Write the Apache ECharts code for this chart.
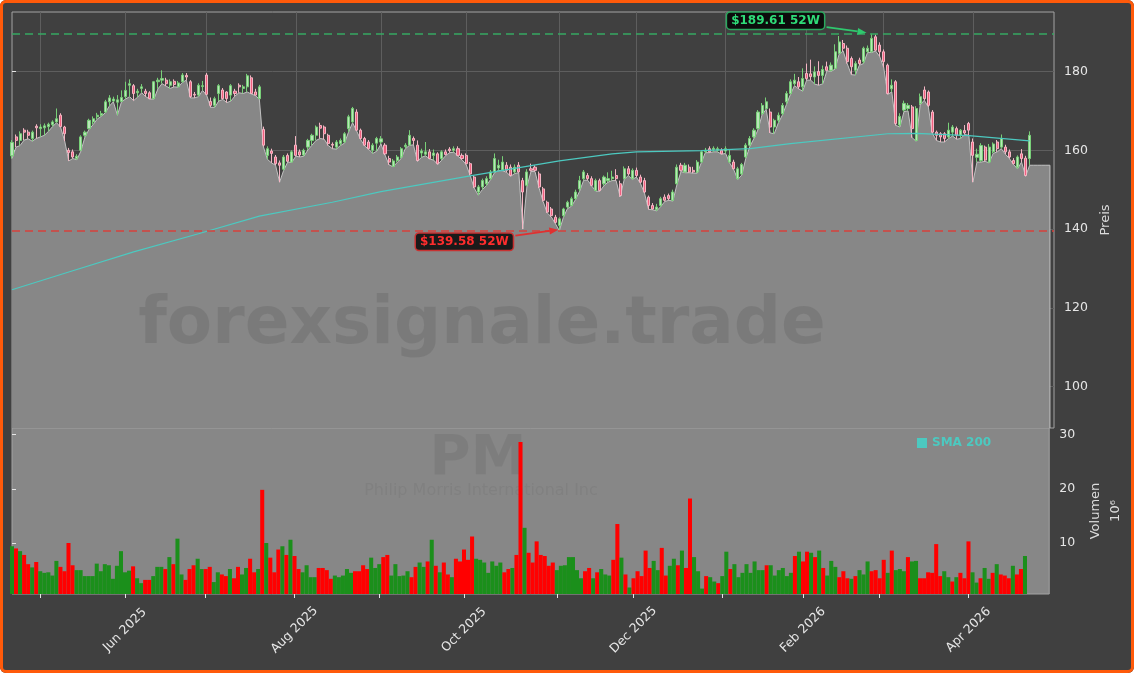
<!DOCTYPE html>
<html>
<head>
<meta charset="utf-8">
<title>PM</title>
<script src="https://cdn.jsdelivr.net/npm/echarts@6/dist/echarts.min.js"></script>
<style>
html, body { margin: 0; padding: 0; background: #ffffff; }
#wrap { position: relative; width: 1134px; height: 673px; }
#chart { position: absolute; left: 0; top: 0; width: 1134px; height: 673px; background: #404040; border-radius: 6px; }
#frame { position: absolute; left: 0; top: 0; width: 1134px; height: 673px; box-sizing: border-box; border: 3px solid #ff5a0a; border-radius: 6px; pointer-events: none; }
</style>
</head>
<body>
<div id="wrap"><div id="chart"></div><div id="frame"></div></div>
<script>
// trading days (x position = index)
var dates = [
 '2025-04-22','2025-04-23','2025-04-24','2025-04-25','2025-04-28','2025-04-29','2025-04-30',
 '2025-05-01','2025-05-02','2025-05-05','2025-05-06','2025-05-07','2025-05-08','2025-05-09','2025-05-12','2025-05-13','2025-05-14','2025-05-15','2025-05-16','2025-05-19','2025-05-20','2025-05-21','2025-05-22','2025-05-23','2025-05-27','2025-05-28','2025-05-29','2025-05-30',
 '2025-06-02','2025-06-03','2025-06-04','2025-06-05','2025-06-06','2025-06-09','2025-06-10','2025-06-11','2025-06-12','2025-06-13','2025-06-16','2025-06-17','2025-06-18','2025-06-20','2025-06-23','2025-06-24','2025-06-25','2025-06-26','2025-06-27','2025-06-30',
 '2025-07-01','2025-07-02','2025-07-03','2025-07-07','2025-07-08','2025-07-09','2025-07-10','2025-07-11','2025-07-14','2025-07-15','2025-07-16','2025-07-17','2025-07-18','2025-07-21','2025-07-22','2025-07-23','2025-07-24','2025-07-25','2025-07-28','2025-07-29','2025-07-30','2025-07-31',
 '2025-08-01','2025-08-04','2025-08-05','2025-08-06','2025-08-07','2025-08-08','2025-08-11','2025-08-12','2025-08-13','2025-08-14','2025-08-15','2025-08-18','2025-08-19','2025-08-20','2025-08-21','2025-08-22','2025-08-25','2025-08-26','2025-08-27','2025-08-28','2025-08-29',
 '2025-09-02','2025-09-03','2025-09-04','2025-09-05','2025-09-08','2025-09-09','2025-09-10','2025-09-11','2025-09-12','2025-09-15','2025-09-16','2025-09-17','2025-09-18','2025-09-19','2025-09-22','2025-09-23','2025-09-24','2025-09-25','2025-09-26','2025-09-29','2025-09-30',
 '2025-10-01','2025-10-02','2025-10-03','2025-10-06','2025-10-07','2025-10-08','2025-10-09','2025-10-10','2025-10-13','2025-10-14','2025-10-15','2025-10-16','2025-10-17','2025-10-20','2025-10-21','2025-10-22','2025-10-23','2025-10-24','2025-10-27','2025-10-28','2025-10-29','2025-10-30','2025-10-31',
 '2025-11-03','2025-11-04','2025-11-05','2025-11-06','2025-11-07','2025-11-10','2025-11-11','2025-11-12','2025-11-13','2025-11-14','2025-11-17','2025-11-18','2025-11-19','2025-11-20','2025-11-21','2025-11-24','2025-11-25','2025-11-26','2025-11-28',
 '2025-12-01','2025-12-02','2025-12-03','2025-12-04','2025-12-05','2025-12-08','2025-12-09','2025-12-10','2025-12-11','2025-12-12','2025-12-15','2025-12-16','2025-12-17','2025-12-18','2025-12-19','2025-12-22','2025-12-23','2025-12-24','2025-12-26','2025-12-29','2025-12-30','2025-12-31',
 '2026-01-02','2026-01-05','2026-01-06','2026-01-07','2026-01-08','2026-01-09','2026-01-12','2026-01-13','2026-01-14','2026-01-15','2026-01-16','2026-01-20','2026-01-21','2026-01-22','2026-01-23','2026-01-26','2026-01-27','2026-01-28','2026-01-29','2026-01-30',
 '2026-02-02','2026-02-03','2026-02-04','2026-02-05','2026-02-06','2026-02-09','2026-02-10','2026-02-11','2026-02-12','2026-02-13','2026-02-17','2026-02-18','2026-02-19','2026-02-20','2026-02-23','2026-02-24','2026-02-25','2026-02-26','2026-02-27',
 '2026-03-02','2026-03-03','2026-03-04','2026-03-05','2026-03-06','2026-03-09','2026-03-10','2026-03-11','2026-03-12','2026-03-13','2026-03-16','2026-03-17','2026-03-18','2026-03-19','2026-03-20','2026-03-23','2026-03-24','2026-03-25','2026-03-26','2026-03-27','2026-03-30','2026-03-31',
 '2026-04-01','2026-04-02','2026-04-06','2026-04-07','2026-04-08','2026-04-09','2026-04-10','2026-04-13','2026-04-14','2026-04-15','2026-04-16','2026-04-17','2026-04-20','2026-04-21','2026-04-22'
];

var open = [
 158.6,163.4,162.5,165.1,164.6,163.0,166.1,
 165.5,165.7,166.0,166.5,167.2,168.9,165.9,160.0,159.6,157.9,160.0,163.8,165.5,167.2,168.5,168.9,169.7,172.3,172.5,172.2,172.4,
 173.6,176.5,176.4,174.6,175.7,175.0,174.6,173.1,177.4,177.8,177.8,176.5,177.5,176.1,177.4,179.0,177.4,174.2,174.0,176.2,
 179.1,172.4,171.4,174.4,175.3,174.8,174.0,175.0,176.5,175.7,176.1,178.4,174.8,173.1,165.3,158.7,159.8,158.3,156.8,155.2,158.7,157.0,
 161.3,159.6,158.8,160.8,162.5,163.8,166.3,165.9,163.8,161.5,160.8,161.7,162.1,165.5,167.2,169.7,165.1,163.0,162.1,160.0,161.8,
 162.1,161.3,157.9,155.9,157.4,158.3,160.9,161.3,163.0,161.3,159.3,159.0,159.6,158.7,159.1,157.9,159.6,160.3,160.0,160.4,158.7,
 158.7,156.6,153.2,149.4,150.7,151.5,152.8,154.5,155.5,155.0,156.2,155.7,154.5,156.2,152.3,151.1,155.3,155.7,154.0,150.2,146.8,145.1,143.0,
 140.9,143.4,145.6,146.0,147.7,150.2,152.8,153.6,152.8,149.8,152.3,151.5,152.3,152.8,153.6,151.5,152.8,155.3,152.8,
 154.9,153.2,152.3,148.1,146.0,144.9,146.0,148.1,148.5,147.3,151.5,156.2,154.5,155.7,154.9,154.5,157.0,159.6,160.4,160.2,160.0,160.0,
 159.8,157.0,157.0,152.8,154.0,158.3,161.3,163.4,165.5,169.3,170.6,169.7,165.9,167.6,169.3,172.3,174.4,176.9,177.4,176.1,
 179.5,179.4,178.6,180.0,179.0,181.2,180.3,180.8,184.6,187.1,185.9,183.3,180.3,182.9,182.5,185.0,185.0,188.8,186.7,
 185.0,181.6,175.6,177.4,166.4,170.2,170.6,171.0,162.5,171.9,175.3,174.8,169.7,164.6,164.2,164.2,163.4,164.6,165.5,163.8,165.0,166.8,
 162.1,158.2,157.4,160.8,157.0,159.6,162.1,160.8,160.8,159.6,157.4,155.7,159.1,158.0,157.9
];
var close = [
 162.0,162.5,164.2,164.6,163.8,164.6,165.7,
 165.9,166.2,166.6,167.2,168.0,166.0,164.2,159.4,158.3,158.5,163.4,164.6,167.6,168.0,168.9,169.3,172.3,173.3,173.0,172.8,173.4,
 175.2,176.9,174.4,175.0,176.1,174.4,173.1,177.4,177.8,178.2,176.9,177.4,176.7,177.1,179.1,178.6,173.6,174.0,176.5,176.4,
 174.2,171.4,173.1,176.4,173.1,173.1,176.4,174.4,176.1,176.1,178.9,174.4,174.0,176.1,161.3,160.4,159.2,156.6,156.2,158.3,157.2,159.6,
 158.7,158.8,160.0,162.5,163.8,165.9,165.6,164.2,161.7,161.3,162.1,162.5,164.2,168.5,170.6,165.1,163.0,161.3,160.4,161.3,163.0,
 162.9,159.1,157.0,157.3,158.3,160.4,161.3,163.8,162.5,157.4,159.8,159.6,157.9,159.3,156.6,159.6,158.9,159.9,160.4,158.7,157.9,
 156.6,154.0,150.7,150.7,152.3,152.8,154.5,157.9,156.2,157.0,154.9,153.6,155.7,154.5,149.4,154.5,154.9,154.9,150.7,147.3,144.3,143.4,141.7,
 142.6,145.1,146.8,147.7,149.4,152.3,154.5,152.8,151.1,152.3,149.8,153.2,152.8,153.2,152.8,148.5,155.3,154.0,154.9,
 153.6,151.9,149.4,146.0,145.1,145.6,147.7,147.3,147.7,149.4,155.7,154.9,156.2,154.5,154.5,157.0,159.6,160.0,159.6,160.5,160.4,159.1,
 160.4,158.7,155.3,155.3,156.4,161.3,163.0,165.1,169.7,171.4,172.3,165.9,167.6,168.9,171.4,174.4,177.4,177.8,176.1,178.2,
 178.2,178.7,179.9,179.0,180.5,180.3,181.6,185.0,187.5,185.9,182.5,181.2,182.0,182.0,185.9,185.9,188.4,185.4,185.0,
 182.5,174.4,176.5,166.8,168.6,171.9,171.4,165.5,170.6,173.6,173.1,171.4,164.6,163.8,163.4,163.0,165.1,165.9,163.8,165.1,164.4,165.1,
 158.7,159.0,161.2,157.5,160.8,161.6,160.4,163.0,159.6,158.3,156.6,158.3,157.9,153.6,163.8
];
var low = [
 157.9,160.8,161.2,162.6,162.9,162.3,163.0,
 163.4,163.8,164.8,166.0,167.0,165.8,162.3,157.3,157.9,157.6,159.8,163.4,165.3,166.5,167.9,168.6,169.5,171.2,172.3,168.9,172.3,
 173.0,173.6,172.6,173.5,174.6,173.6,173.0,173.0,175.6,176.9,176.3,175.7,176.1,176.0,177.2,177.8,173.3,173.3,173.6,175.2,
 174.0,170.9,170.9,172.5,172.9,172.1,172.5,173.8,174.6,174.4,174.8,174.3,173.9,173.0,160.9,157.7,156.8,156.2,151.9,154.9,157.0,156.9,
 158.5,158.3,158.5,160.1,161.3,162.5,163.0,162.8,161.2,160.4,160.3,161.2,161.8,164.6,167.0,164.9,162.7,161.1,160.2,159.2,159.8,
 161.6,158.8,156.3,155.8,156.9,157.9,160.4,161.2,161.4,157.2,158.2,158.6,157.8,157.5,156.4,157.5,158.7,159.4,159.5,158.5,157.6,
 156.4,153.6,150.4,148.6,150.0,151.0,152.5,154.3,154.9,154.8,154.4,153.4,154.1,154.3,140.0,150.8,154.6,154.6,150.4,147.0,144.1,143.1,141.4,
 139.58,143.0,145.2,145.8,147.5,149.6,152.4,152.4,150.9,149.6,149.6,151.0,151.9,152.3,152.3,148.2,152.6,153.6,152.6,
 153.2,151.6,149.1,145.0,144.9,144.6,145.7,147.0,147.3,147.1,151.3,154.6,154.3,154.3,154.2,154.2,156.8,159.4,159.4,159.6,159.6,159.0,
 159.2,156.8,155.1,152.6,153.7,158.0,161.0,163.0,165.2,169.0,170.4,164.4,164.2,166.9,168.9,171.6,174.2,176.4,175.6,175.0,
 177.8,177.8,176.8,176.5,176.9,180.2,180.0,180.6,184.4,185.2,182.0,179.2,179.1,181.6,182.0,184.8,184.8,185.2,183.8,
 181.0,174.2,174.8,166.3,165.9,169.8,170.0,163.2,162.3,171.5,172.7,171.0,164.3,162.5,162.1,162.1,163.0,163.6,162.8,163.0,164.0,163.8,
 151.9,157.0,157.0,157.2,156.8,159.2,159.6,160.4,159.0,157.9,156.4,155.3,157.0,153.4,156.2
];
var high = [
 162.6,164.0,164.8,165.6,165.2,165.0,166.6,
 166.6,166.8,167.0,167.6,170.6,169.4,166.2,160.6,160.2,159.0,163.8,165.0,168.0,168.6,169.5,170.0,172.8,174.0,173.6,174.0,175.2,
 177.4,178.0,176.8,175.6,176.8,175.6,175.0,177.6,178.4,180.3,178.4,178.0,178.0,177.6,179.6,179.6,177.8,174.8,177.0,177.6,
 179.6,173.4,173.6,176.8,175.8,175.0,176.8,175.6,177.0,176.6,179.4,179.0,175.6,176.6,166.0,161.0,160.4,158.8,157.4,158.8,159.2,160.0,
 163.6,160.2,160.4,162.9,164.2,166.3,167.0,166.3,164.2,162.0,162.6,163.0,164.6,169.0,171.0,170.4,165.5,163.4,162.6,161.8,163.4,
 163.6,161.8,158.6,157.8,158.8,160.8,161.8,165.1,163.5,162.5,160.4,162.1,160.3,160.2,159.5,160.0,160.2,160.8,161.0,161.0,159.2,
 159.2,157.0,153.6,151.2,152.8,153.4,155.0,159.2,157.6,158.5,157.0,156.4,156.4,157.0,153.0,155.2,156.6,156.2,154.6,150.7,147.2,145.6,143.6,
 143.0,145.4,147.2,148.2,150.0,153.5,155.0,154.2,153.4,152.8,152.8,153.6,154.4,154.8,155.2,152.3,155.9,156.0,155.4,
 155.6,153.8,153.0,148.5,146.6,146.4,148.2,148.8,149.0,150.0,156.4,156.8,156.8,156.4,155.8,157.5,160.0,160.6,161.0,161.0,160.9,160.5,
 161.0,160.2,157.6,155.8,156.8,161.8,163.6,165.6,170.2,172.0,173.4,170.6,168.0,169.6,172.0,175.0,178.0,179.4,178.6,180.8,
 182.0,183.0,181.3,182.6,181.5,182.5,182.3,186.9,189.0,188.0,186.6,183.8,182.6,183.5,186.3,186.6,189.61,189.4,187.4,
 185.6,182.0,178.0,177.8,169.4,172.6,172.0,171.5,171.2,174.4,176.2,175.2,170.2,165.0,164.6,164.6,167.0,166.4,166.0,165.4,166.4,167.2,
 163.0,160.4,161.8,161.2,161.6,162.0,162.6,164.0,161.4,160.2,158.0,158.7,160.3,158.6,164.8
];
// volume in millions
var volume = [
 9.4,9.0,8.5,7.8,6.1,5.5,6.5,4.8,4.5,4.6,4.0,6.7,5.6,4.8,10.0,5.9,5.0,5.0,3.9,3.9,
 3.9,6.2,4.8,6.1,5.9,3.4,5.8,8.5,4.6,4.9,5.7,3.5,2.6,3.2,3.2,3.9,5.6,5.6,5.2,7.4,
 6.1,10.8,4.2,3.2,5.2,5.9,7.1,5.2,5.2,5.6,2.8,4.6,4.2,3.9,5.2,3.5,5.6,4.2,5.4,7.1,
 4.6,5.2,19.8,10.0,7.3,4.6,8.8,9.4,7.8,10.6,7.6,5.2,4.6,5.9,3.7,3.7,5.4,5.4,5.0,3.4,
 4.0,3.7,4.0,5.2,4.5,4.8,4.8,5.9,5.2,7.3,5.4,
 6.1,7.4,7.8,4.0,6.1,3.9,4.0,4.8,3.7,5.6,6.4,5.6,6.6,10.6,5.8,4.6,6.4,4.2,3.7,7.1,
 6.6,8.8,6.9,11.2,7.1,6.9,6.4,4.5,6.6,5.8,6.4,4.6,5.2,5.4,7.8,28.6,
 12.8,8.2,6.4,10.3,7.8,7.6,5.8,6.4,5.0,5.8,5.9,7.4,7.4,5.0,3.5,4.8,5.4,3.5,4.6,5.2,
 4.2,4.0,6.9,13.5,7.3,4.2,1.8,3.5,4.8,3.9,8.6,5.4,6.7,5.0,9.1,4.0,5.8,7.1,5.9,8.6,
 5.4,18.2,7.4,4.8,1.6,3.9,3.7,2.9,2.6,3.9,8.4,5.2,6.1,
 3.7,4.5,6.1,4.5,6.6,5.0,5.0,5.9,5.9,4.0,5.0,5.4,3.9,4.5,7.6,8.4,6.6,8.4,8.2,7.4,
 8.6,5.4,4.0,6.7,5.6,3.7,4.8,3.5,3.4,3.9,5.0,4.2,6.6,4.8,5.0,3.5,6.9,4.5,8.6,5.0,
 5.2,4.8,7.4,6.6,6.7,3.5,3.5,4.6,4.5,9.8,3.9,4.8,3.7,2.9,3.7,4.5,3.5,10.3,4.6,2.7,
 3.5,5.4,3.4,4.5,6.1,4.2,4.0,3.5,5.8,4.2,5.2,7.6
];
// SMA 200 read at points along the line
var smaIdx = [0, 14, 30, 46, 61, 79, 91, 113, 135, 148, 154, 170, 182, 192, 216, 223, 236, 251];
var smaVal = [124.6, 129.1, 134.2, 138.8, 143.3, 146.8, 149.5, 153.5, 157.3, 159.1, 159.6, 159.9, 160.4, 161.7, 164.2, 164.3, 163.7, 162.4];
// flat lows drawn after the last session
var padIdx = [252, 253, 254, 255, 256];
var padLow = [156.2, 156.2, 156.2, 156.2, 156.2];
var priceTicks = [100, 120, 140, 160, 180];
var volTicks = [10, 20, 30];
var monthNames = ['Jan','Feb','Mar','Apr','May','Jun','Jul','Aug','Sep','Oct','Nov','Dec'];

var PMIN = 89.5, PMAX = 195.1, XMAX = 257;

var chart = echarts.init(document.getElementById('chart'));

var candleData = [], volData = [], areaData = [];
var hiIdx = 0, loIdx = 0;
for (var i = 0; i < dates.length; i++) {
    candleData.push([i, open[i], close[i], low[i], high[i]]);
    areaData.push([i, low[i]]);
    volData.push({
        value: [i, volume[i]],
        itemStyle: { color: close[i] >= open[i] ? '#1b8f1b' : '#ff0000' }
    });
    if (high[i] > high[hiIdx]) hiIdx = i;
    if (low[i] < low[loIdx]) loIdx = i;
}
for (var j = 0; j < padIdx.length; j++) areaData.push([padIdx[j], padLow[j]]);
areaData.push([padIdx[padIdx.length - 1], PMIN]);

var smaData = smaIdx.map(function (x, k) { return [x, smaVal[k]]; });

// first session of each month -> ticks, every second month labelled
var monthTicks = [], labelTicks = [];
for (var m = 1; m < dates.length; m++) {
    if (dates[m].slice(5, 7) !== dates[m - 1].slice(5, 7)) {
        monthTicks.push(m);
        if (+dates[m].slice(5, 7) % 2 === 0) labelTicks.push(m);
    }
}
function fmtMonth(v) {
    var d = dates[Math.round(v)];
    return monthNames[+d.slice(5, 7) - 1] + ' ' + d.slice(0, 4);
}

var tickColor = '#e6e6e6';
var option = {
    animation: false,
    textStyle: { fontFamily: 'DejaVu Sans' },
    grid: [
        { left: 12, top: 12, width: 1042, height: 416, show: true, borderColor: '#a3a3a3', borderWidth: 1, backgroundColor: 'transparent' },
        { left: 12, top: 428, width: 1042, height: 166, show: true, borderColor: '#a3a3a3', borderWidth: 1, backgroundColor: '#878787' }
    ],
    xAxis: [
        {
            type: 'value', gridIndex: 0, min: 0, max: XMAX,
            axisLine: { show: false },
            axisTick: { show: false, customValues: monthTicks },
            axisLabel: { show: false },
            splitLine: { show: true, lineStyle: { color: '#5e5e5e', width: 1 } }
        },
        {
            type: 'value', gridIndex: 1, min: 0, max: XMAX,
            axisLine: { show: false },
            axisTick: { show: true, customValues: monthTicks, length: 4, lineStyle: { color: tickColor } },
            axisLabel: {
                customValues: labelTicks, formatter: fmtMonth, rotate: 45,
                align: 'center', verticalAlign: 'middle', margin: 36,
                color: tickColor, fontSize: 12.5
            },
            splitLine: { show: false }
        }
    ],
    yAxis: [
        {
            type: 'value', gridIndex: 0, position: 'right', min: PMIN, max: PMAX,
            axisLine: { show: false },
            axisTick: { show: true, customValues: priceTicks, length: 4, lineStyle: { color: tickColor } },
            axisLabel: { customValues: priceTicks, color: tickColor, fontSize: 12.5, margin: 10 },
            splitLine: { show: true, lineStyle: { color: '#5e5e5e', width: 1 } },
            name: 'Preis', nameLocation: 'middle', nameRotate: 90, nameGap: 41,
            nameTextStyle: { color: '#dcdcdc', fontSize: 13 }
        },
        {
            type: 'value', gridIndex: 1, position: 'right', min: 0.6, max: 31.2,
            axisLine: { show: false },
            axisTick: { show: true, customValues: volTicks, length: 4, lineStyle: { color: tickColor } },
            axisLabel: { customValues: volTicks, color: tickColor, fontSize: 12.5, margin: 10 },
            splitLine: { show: false },
            name: 'Volumen\n10\u2076', nameLocation: 'middle', nameRotate: 90, nameGap: 29,
            nameTextStyle: { color: '#dcdcdc', fontSize: 13, lineHeight: 20 }
        }
    ],
    legend: {
        data: ['SMA 200'], left: 912, top: 432, icon: 'rect',
        itemWidth: 10, itemHeight: 10, selectedMode: false,
        textStyle: { color: '#4cc9c0', fontWeight: 'bold', fontSize: 12 }
    },
    graphic: [
        { type: 'text', id: 'wm1', z: 2, x: 482, y: 326, silent: true,
          style: { text: 'forexsignale.trade', font: 'bold 66px "DejaVu Sans"', fill: 'rgba(0,0,0,0.09)', align: 'center', verticalAlign: 'middle' } },
        { type: 'text', id: 'wm2', z: 2, x: 478, y: 459, silent: true,
          style: { text: 'PM', font: 'bold 56px "DejaVu Sans"', fill: 'rgba(0,0,0,0.07)', align: 'center', verticalAlign: 'middle' } },
        { type: 'text', id: 'wm3', z: 2, x: 481, y: 491, silent: true,
          style: { text: 'Philip Morris International Inc', font: '16px "DejaVu Sans"', fill: 'rgba(0,0,0,0.05)', align: 'center', verticalAlign: 'middle' } }
    ],
    series: [
        {
            type: 'line', xAxisIndex: 0, yAxisIndex: 0, data: areaData, z: 1,
            symbol: 'none', silent: true,
            lineStyle: { color: '#c2c2c2', width: 1 },
            areaStyle: { color: '#878787', opacity: 1, origin: 'start' },
            markLine: {
                silent: true, symbol: 'none', label: { show: false },
                data: [
                    { yAxis: high[hiIdx], lineStyle: { color: '#36a862', type: [8, 5], width: 1.6 } },
                    { yAxis: low[loIdx], lineStyle: { color: '#d8413c', type: [8, 5], width: 1.6 } }
                ]
            }
        },
        {
            type: 'candlestick', xAxisIndex: 0, yAxisIndex: 0, data: candleData, z: 3,
            barWidth: 2.6,
            itemStyle: {
                color: '#b9e6b9', borderColor: '#78d078',
                color0: '#f0607f', borderColor0: '#f4b6c4', borderWidth: 1
            }
        },
        {
            name: 'SMA 200', type: 'line', xAxisIndex: 0, yAxisIndex: 0, data: smaData, z: 4,
            symbol: 'none', lineStyle: { color: '#4cc9c0', width: 1.2 }, itemStyle: { color: '#4cc9c0' }
        },
        {
            type: 'bar', xAxisIndex: 1, yAxisIndex: 1, data: volData, z: 3,
            barWidth: '100%'
        }
    ]
};
chart.setOption(option);

// 52W annotations anchored on the extreme sessions
function arrow(id, x1, y1, x2, y2, color) {
    var dx = x2 - x1, dy = y2 - y1, len = Math.sqrt(dx * dx + dy * dy);
    var ux = dx / len, uy = dy / len, hl = 9, hw = 3.5;
    var bx = x2 - ux * hl, by = y2 - uy * hl;
    return [
        { type: 'line', id: id + 'L', z: 20, silent: true, shape: { x1: x1, y1: y1, x2: bx, y2: by }, style: { stroke: color, lineWidth: 1.8 } },
        { type: 'polygon', id: id + 'H', z: 20, silent: true, shape: { points: [[x2, y2], [bx - uy * hw, by + ux * hw], [bx + uy * hw, by - ux * hw]] }, style: { fill: color } }
    ];
}
var A = chart.convertToPixel({ xAxisIndex: 0, yAxisIndex: 0 }, [hiIdx, high[hiIdx]]);
var B = chart.convertToPixel({ xAxisIndex: 0, yAxisIndex: 0 }, [loIdx, low[loIdx]]);
var marks = [
    { type: 'text', id: 'hiBox', z: 21, silent: true, x: A[0] - 96, y: A[1] - 13,
      style: { text: '$' + high[hiIdx].toFixed(2) + ' 52W', font: 'bold 12px "DejaVu Sans"', fill: '#2fdc78',
               backgroundColor: '#0c0c0c', borderColor: '#2aa85e', borderWidth: 1.5, borderRadius: 3,
               padding: [2, 4, 2, 4], align: 'center', verticalAlign: 'middle' } },
    { type: 'text', id: 'loBox', z: 21, silent: true, x: B[0] - 95, y: B[1] + 11,
      style: { text: '$' + low[loIdx].toFixed(2) + ' 52W', font: 'bold 12px "DejaVu Sans"', fill: '#ff2d2d',
               backgroundColor: '#1a1a1a', borderColor: '#c83232', borderWidth: 1.5, borderRadius: 3,
               padding: [2, 4, 2, 4], align: 'center', verticalAlign: 'middle' } }
];
marks = marks.concat(arrow('hiArr', A[0] - 45, A[1] - 6.5, A[0] - 5, A[1] - 1, '#2fc86e'));
marks = marks.concat(arrow('loArr', B[0] - 44, B[1] + 5, B[0] - 1, B[1] - 1, '#e03030'));
chart.setOption({ graphic: marks });
</script>
</body>
</html>
